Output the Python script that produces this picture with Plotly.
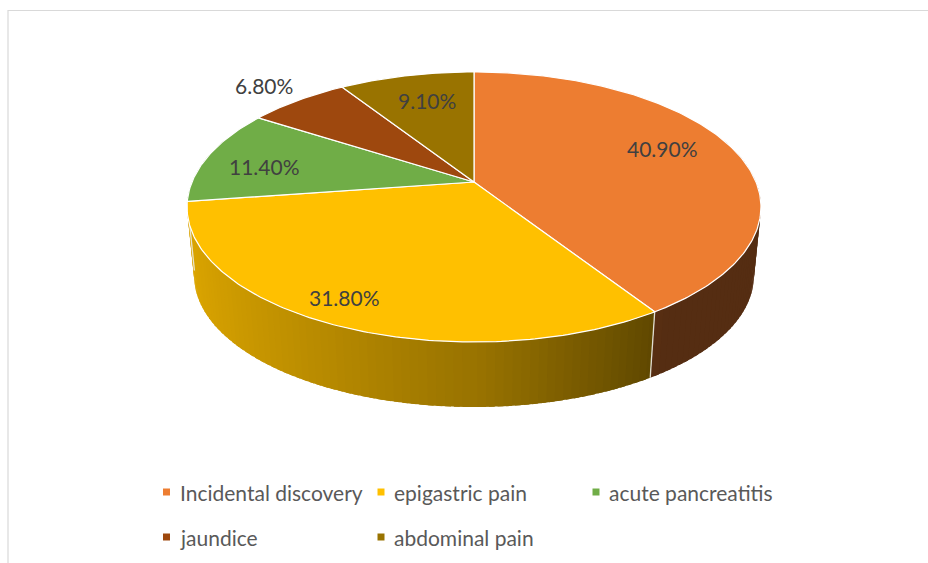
import numpy as np
import plotly.graph_objects as go

# ---- data -------------------------------------------------------------
categories = ["Incidental discovery", "epigastric pain", "acute pancreatitis",
              "jaundice", "abdominal pain"]
shares = [40.9, 31.8, 11.4, 6.8, 9.1]          # percent of patients
colors = ["#ED7D31", "#FFC000", "#70AD47", "#9E480E", "#997300"]

# ---- layout / geometry settings (pixel space) ------------------------
W, H = 928, 563
CX, CY = 474, 182              # apex of the top face
RX, RY, K = 282, 130.4, 0.185  # top ellipse radii and perspective factor
BX, BCY, BRY = 275, 251.8, 126.5  # bottom ellipse (slightly narrower, lower)

# label anchors (pixel space) and legend grid
label_pos = [(662, 148), (344, 297), (264, 166), (264, 85), (427, 100)]
legend_pos = [(166.5, 492), (381, 492), (596, 492), (166.5, 537), (381, 537)]


def hex_rgb(h):
    h = h.lstrip("#")
    return tuple(int(h[i:i + 2], 16) for i in (0, 2, 4))


def project(theta_deg, r, cy, rx, ry):
    t = np.radians(theta_deg)
    u = r * np.sin(t)
    v = -r * np.cos(t)
    d = 1 - K * v
    return CX + rx * u / d, cy + ry * v / d


def top_pt(theta, r=1.0):
    return project(theta, r, CY, RX, RY)


def bot_pt(theta):
    return project(theta, 1.0, BCY, BX, BRY)


def shade(u):
    if u < 0:
        return 0.6 - 0.27 * u
    return max(0.36, 0.6 - 0.42 * u)


# slice boundaries, clockwise from 12 o'clock
total = sum(shares)
bounds = [0.0]
for s in shares:
    bounds.append(bounds[-1] + 360.0 * s / total)

fig = go.Figure()

# ---- side wall: small facets, painted back to front --------------------
facets = []
for i, col in enumerate(colors):
    a0, a1 = bounds[i], bounds[i + 1]
    lo, hi = max(a0, 70.0), min(a1, 290.0)
    if hi <= lo:
        continue
    n = max(1, int(np.ceil((hi - lo) / 1.5)))
    edges = np.linspace(lo, hi, n + 1)
    rgb = hex_rgb(col)
    for j, (t0, t1) in enumerate(zip(edges[:-1], edges[1:])):
        tm = 0.5 * (t0 + t1)
        f = shade(np.sin(np.radians(tm)))
        c = "rgb({},{},{})".format(*[int(round(ch * f)) for ch in rgb])
        # overlap neighbouring facets slightly to hide seams
        e0 = t0 - (0.5 if j > 0 else 0.0)
        e1 = t1 + (0.5 if j < n - 1 else 0.0)
        ts = np.linspace(e0, e1, 4)
        xt, yt = top_pt(ts)
        xb, yb = bot_pt(ts[::-1])
        xs = list(xt) + list(xb) + [xt[0]]
        ys = list(yt) + list(yb) + [yt[0]]
        facets.append((-np.cos(np.radians(tm)), xs, ys, c))

facets.sort(key=lambda f: f[0])
for _, xs, ys, c in facets:
    fig.add_trace(go.Scatter(x=xs, y=ys, mode="lines", fill="toself",
                             fillcolor=c, line=dict(color=c, width=0),
                             hoverinfo="skip", showlegend=False))

# seams between slices on the visible wall
for b in bounds[1:-1]:
    if 95 < b < 265:
        xt, yt = top_pt(np.array([b]))
        xb, yb = bot_pt(np.array([b]))
        fig.add_trace(go.Scatter(x=[xt[0], xb[0]], y=[yt[0], yb[0]], mode="lines",
                                 line=dict(color="rgba(235,235,225,0.9)", width=1.3),
                                 hoverinfo="skip", showlegend=False))

# ---- top face ----------------------------------------------------------
for i, col in enumerate(colors):
    a0, a1 = bounds[i], bounds[i + 1]
    ts = np.linspace(a0, a1, max(3, int((a1 - a0) / 0.8)))
    xa, ya = top_pt(ts)
    xs = [CX] + list(xa) + [CX]
    ys = [CY] + list(ya) + [CY]
    fig.add_trace(go.Scatter(x=xs, y=ys, mode="lines", fill="toself",
                             fillcolor=col, line=dict(color="white", width=1.2),
                             hoverinfo="skip", showlegend=False,
                             name=categories[i]))

# ---- data labels -------------------------------------------------------
for (lx, ly), s in zip(label_pos, shares):
    fig.add_annotation(x=lx, y=ly, text=f"{s:.2f}%", showarrow=False,
                       font=dict(family="Lato", size=21, color="#404040"),
                       xanchor="center", yanchor="middle")

# ---- legend ------------------------------------------------------------
for (mx, my), name, col in zip(legend_pos, categories, colors):
    fig.add_trace(go.Scatter(x=[mx], y=[my], mode="markers",
                             marker=dict(symbol="square", size=7, color=col,
                                         line=dict(width=0)),
                             hoverinfo="skip", showlegend=False))
    fig.add_annotation(x=mx + 11, y=my, text=name, showarrow=False,
                       font=dict(family="Lato", size=21, color="#595959"),
                       xanchor="left", yanchor="middle")

# chart frame
fig.add_shape(type="rect", x0=8, y0=10.5, x1=945, y1=580,
              line=dict(color="#D9D9D9", width=1.2), layer="below")

fig.update_layout(
    width=W, height=H,
    margin=dict(l=0, r=0, t=0, b=0),
    paper_bgcolor="white", plot_bgcolor="white",
    xaxis=dict(range=[0, W], visible=False, fixedrange=True),
    yaxis=dict(range=[H, 0], visible=False, fixedrange=True),
    showlegend=False,
)

fig.write_html("out.html")
